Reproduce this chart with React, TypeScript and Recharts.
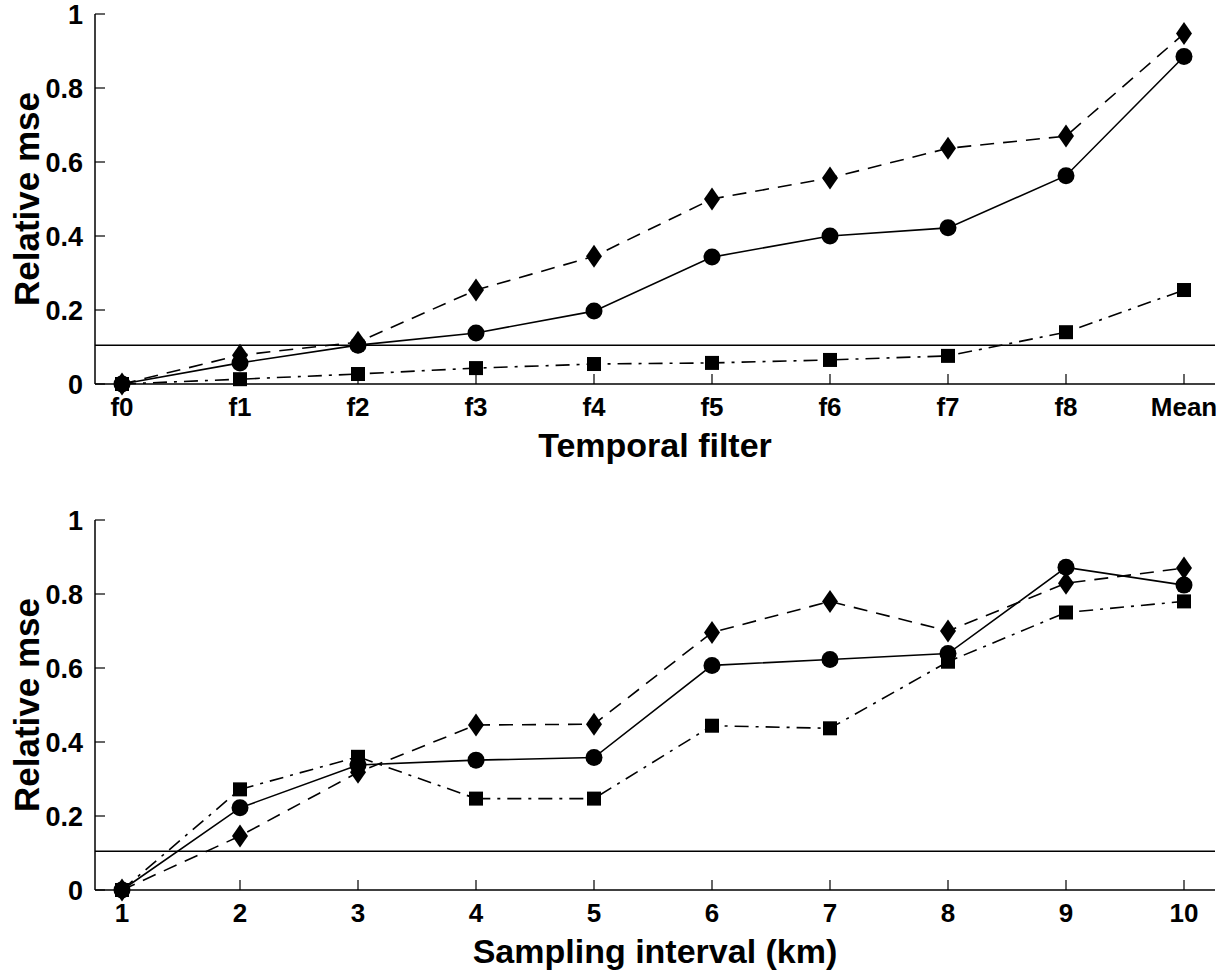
import React from 'react';
import { LineChart, Line, XAxis, YAxis, ReferenceLine } from 'recharts';

const filterLabels = ['f0', 'f1', 'f2', 'f3', 'f4', 'f5', 'f6', 'f7', 'f8', 'Mean'];
const filterCircle = [0, 0.057, 0.105, 0.138, 0.197, 0.343, 0.4, 0.422, 0.563, 0.885];
const filterDiamond = [0, 0.078, 0.113, 0.254, 0.345, 0.5, 0.557, 0.637, 0.67, 0.947];
const filterSquare = [0, 0.013, 0.027, 0.043, 0.054, 0.057, 0.065, 0.076, 0.14, 0.254];

const intervalLabels = ['1', '2', '3', '4', '5', '6', '7', '8', '9', '10'];
const intervalCircle = [0, 0.222, 0.338, 0.351, 0.358, 0.607, 0.623, 0.639, 0.872, 0.824];
const intervalDiamond = [0, 0.146, 0.318, 0.446, 0.448, 0.696, 0.78, 0.7, 0.829, 0.87];
const intervalSquare = [0, 0.272, 0.36, 0.247, 0.247, 0.444, 0.437, 0.617, 0.75, 0.78];

const threshold = 0.105;
const yTicks = [0, 0.2, 0.4, 0.6, 0.8, 1];

const FONT = '"Liberation Sans", Arial, Helvetica, sans-serif';

const CircleDot = (props: any) => {
  const { cx, cy, index } = props;
  if (cx == null || cy == null) return <g key={`c${index}`} />;
  return <circle key={`c${index}`} cx={cx} cy={cy} r={8.5} fill="#000" />;
};

const DiamondDot = (props: any) => {
  const { cx, cy, index } = props;
  if (cx == null || cy == null) return <g key={`d${index}`} />;
  const w = 8;
  const h = 11.5;
  return (
    <path
      key={`d${index}`}
      d={`M${cx},${cy - h} L${cx + w},${cy} L${cx},${cy + h} L${cx - w},${cy} Z`}
      fill="#000"
    />
  );
};

const SquareDot = (props: any) => {
  const { cx, cy, index } = props;
  if (cx == null || cy == null) return <g key={`s${index}`} />;
  return <rect key={`s${index}`} x={cx - 7} y={cy - 7} width={14} height={14} fill="#000" />;
};

const XTick = (props: any) => {
  const { x, y, payload } = props;
  return (
    <g>
      <line x1={x} y1={y} x2={x} y2={y - 10} stroke="#000" strokeWidth={1.2} />
      <text x={x} y={y + 32} textAnchor="middle" fontFamily={FONT} fontWeight="bold" fontSize={26} fill="#000">
        {payload.value}
      </text>
    </g>
  );
};

const YTick = (props: any) => {
  const { x, y, payload } = props;
  return (
    <g>
      <line x1={x} y1={y} x2={x + 10} y2={y} stroke="#000" strokeWidth={1.2} />
      <text x={x - 12} y={y + 10} textAnchor="end" fontFamily={FONT} fontWeight="bold" fontSize={27} fill="#000">
        {String(payload.value)}
      </text>
    </g>
  );
};

interface PanelProps {
  labels: string[];
  circle: number[];
  diamond: number[];
  square: number[];
  xTitle: string;
}

const Panel: React.FC<PanelProps> = ({ labels, circle, diamond, square, xTitle }) => {
  const data = labels.map((name, i) => ({
    name,
    circle: circle[i],
    diamond: diamond[i],
    square: square[i],
  }));

  return (
    <LineChart width={1223} height={470} data={data} margin={{ top: 14, right: 8, bottom: 0, left: 0 }}>
      <XAxis
        dataKey="name"
        interval={0}
        height={86}
        padding={{ left: 27, right: 31 }}
        tickSize={0}
        tickMargin={0}
        tickLine={false}
        axisLine={{ stroke: '#000', strokeWidth: 1.5 }}
        tick={XTick}
        label={{
          content: (p: any) => {
            const vb = p.viewBox || { x: 95, y: 384, width: 1120 };
            return (
              <text
                x={vb.x + vb.width / 2}
                y={vb.y + 73}
                textAnchor="middle"
                fontFamily={FONT}
                fontWeight="bold"
                fontSize={34}
                fill="#000"
              >
                {xTitle}
              </text>
            );
          },
        }}
      />
      <YAxis
        type="number"
        domain={[0, 1]}
        ticks={yTicks}
        interval={0}
        width={95}
        tickSize={0}
        tickMargin={0}
        tickLine={false}
        axisLine={{ stroke: '#000', strokeWidth: 1.5 }}
        tick={YTick}
        label={{
          content: (p: any) => {
            const vb = p.viewBox || { x: 0, y: 14, height: 370 };
            const cy = vb.y + vb.height / 2;
            return (
              <text
                x={26}
                y={cy}
                transform={`rotate(-90, 26, ${cy})`}
                textAnchor="middle"
                dominantBaseline="central"
                fontFamily={FONT}
                fontWeight="bold"
                fontSize={35}
                fill="#000"
              >
                Relative mse
              </text>
            );
          },
        }}
      />
      <ReferenceLine y={threshold} stroke="#000" strokeWidth={1.5} />
      <Line
        type="linear"
        dataKey="diamond"
        stroke="#000"
        strokeWidth={1.6}
        strokeDasharray="14 9"
        dot={DiamondDot}
        activeDot={false}
        isAnimationActive={false}
      />
      <Line
        type="linear"
        dataKey="square"
        stroke="#000"
        strokeWidth={1.6}
        strokeDasharray="14 7 3 7"
        dot={SquareDot}
        activeDot={false}
        isAnimationActive={false}
      />
      <Line
        type="linear"
        dataKey="circle"
        stroke="#000"
        strokeWidth={1.6}
        dot={CircleDot}
        activeDot={false}
        isAnimationActive={false}
      />
    </LineChart>
  );
};

export default function App() {
  return (
    <div style={{ position: 'absolute', left: 0, top: 0, width: 1223, height: 970, background: '#fff' }}>
      <div style={{ position: 'absolute', left: 0, top: 0 }}>
        <Panel
          labels={filterLabels}
          circle={filterCircle}
          diamond={filterDiamond}
          square={filterSquare}
          xTitle="Temporal filter"
        />
      </div>
      <div style={{ position: 'absolute', left: 0, top: 506 }}>
        <Panel
          labels={intervalLabels}
          circle={intervalCircle}
          diamond={intervalDiamond}
          square={intervalSquare}
          xTitle="Sampling interval (km)"
        />
      </div>
    </div>
  );
}
